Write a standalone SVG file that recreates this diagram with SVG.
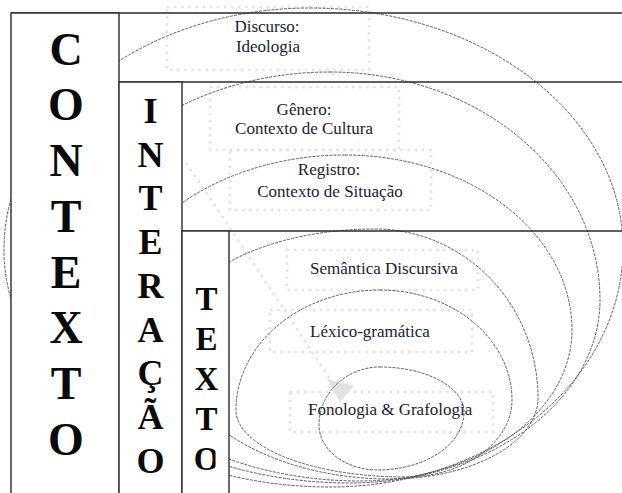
<svg xmlns="http://www.w3.org/2000/svg" width="622" height="493" viewBox="0 0 622 493">
<style>
.bg{fill:#fff}
.dots{fill:none;stroke:#e3e3e3;stroke-width:2.6;stroke-dasharray:2.5 4.6;stroke-linecap:butt}
.ell{fill:none;stroke:#4a4a4a;stroke-width:0.9;stroke-dasharray:3 1.2}
.box{fill:#fff;stroke:#2a2a2a;stroke-width:1.4}
.rule{stroke:#2a2a2a;stroke-width:1.4}
.big{font-family:"Liberation Serif","Times New Roman",serif;font-weight:bold;fill:#0a0a0a;text-anchor:middle}
.lbl{font-family:"Liberation Serif","Times New Roman",serif;font-size:17px;fill:#1c1c30}
.c{text-anchor:middle}
</style>
<defs>
<clipPath id="clipTexto"><rect x="182" y="231" width="33.5" height="262"/></clipPath>
</defs>
<rect class="bg" x="0" y="0" width="622" height="493"/>
<g id="background-dots">
<rect class="dots" x="167" y="7" width="202" height="63"/>
<rect class="dots" x="210" y="87" width="189" height="63"/>
<rect class="dots" x="230" y="150" width="201" height="60"/>
<rect class="dots" x="287" y="250" width="191" height="40"/>
<rect class="dots" x="270" y="310" width="202" height="42"/>
<rect class="dots" x="290" y="392" width="203" height="40"/>
<polyline class="dots" points="186,163 226,222 332,382"/>
<polygon points="327,379 354,386 340,402" fill="#e2e2e2"/>
</g>
<g id="connectors">
<path id="ell-discurso" class="ell" d="M310,8 A313,240 0 0 1 623,248 A293,239 0 0 1 330,487 A326,237 0 0 1 4,250 A306,242 0 0 1 310,8 Z"/>
<path id="ell-genero" class="ell" d="M330,72 A270,228 0 0 1 600,300 A250,183 0 0 1 350,483 A298,193 0 0 1 52,290 A278,218 0 0 1 330,72 Z"/>
<path id="ell-registro" class="ell" d="M345,155 A227,175 0 0 1 572,330 A212,151 0 0 1 360,481 A252,151 0 0 1 108,330 A237,175 0 0 1 345,155 Z"/>
<path id="ell-semantica" class="ell" d="M375,229 A163,169 0 0 1 538,398 A148,81 0 0 1 390,479 A220,139 0 0 1 170,340 A205,111 0 0 1 375,229 Z"/>
<path id="ell-lexico" class="ell" d="M380,290 A132,110 0 0 1 512,400 A107,77 0 0 1 405,477 A169,67 0 0 1 236,410 A144,120 0 0 1 380,290 Z"/>
<path id="ell-fonologia" class="ell" d="M380,367 A84,45 0 0 1 464,412 A86,58 0 0 1 378,470 A59,45 0 0 1 319,425 A61,58 0 0 1 380,367 Z"/>
</g>
<g id="frame">
<line class="rule" x1="11" y1="13" x2="622" y2="13"/>
<line class="rule" x1="119" y1="82" x2="622" y2="82"/>
<line class="rule" x1="182" y1="231" x2="622" y2="231"/>
</g>
<g id="contexto">
<rect class="box" x="11" y="13" width="108" height="500"/>
<g class="big" font-size="46">
<text x="66" y="65">C</text>
<text x="66" y="120">O</text>
<text x="66" y="176">N</text>
<text x="66" y="232">T</text>
<text x="66" y="288">E</text>
<text x="66" y="343">X</text>
<text x="66" y="399">T</text>
<text x="66" y="455">O</text>
</g>
</g>
<g id="interacao">
<rect class="box" x="119" y="82" width="63" height="431"/>
<g class="big" font-size="36">
<text x="150.5" y="123">I</text>
<text x="150.5" y="167">N</text>
<text x="150.5" y="210">T</text>
<text x="150.5" y="254">E</text>
<text x="150.5" y="298">R</text>
<text x="150.5" y="342">A</text>
<text x="150.5" y="385">Ç</text>
<text x="150.5" y="429">Ã</text>
<text x="150.5" y="473">O</text>
</g>
</g>
<g id="texto">
<rect class="box" x="182" y="231" width="47" height="282"/>
<g class="big" font-size="33">
<text x="206.5" y="310">T</text>
<text x="206.5" y="350">E</text>
<text x="206.5" y="390">X</text>
<text x="206.5" y="430">T</text>
<text x="206.5" y="470" clip-path="url(#clipTexto)">O</text>
</g>
</g>
<g id="discurso">
<text class="lbl c" x="267" y="32">Discurso:</text>
<text class="lbl c" x="268" y="52">Ideologia</text>
</g>
<g id="genero">
<text class="lbl c" x="304" y="115">Gênero:</text>
<text class="lbl c" x="304" y="134">Contexto de Cultura</text>
</g>
<g id="registro">
<text class="lbl c" x="329" y="175">Registro:</text>
<text class="lbl c" x="330" y="197">Contexto de Situação</text>
</g>
<g id="semantica">
<text class="lbl" x="310" y="274">Semântica Discursiva</text>
</g>
<g id="lexico">
<text class="lbl" x="310" y="337">Léxico-gramática</text>
</g>
<g id="fonologia">
<text class="lbl" x="308" y="415">Fonologia &amp; Grafologia</text>
</g>
</svg>
